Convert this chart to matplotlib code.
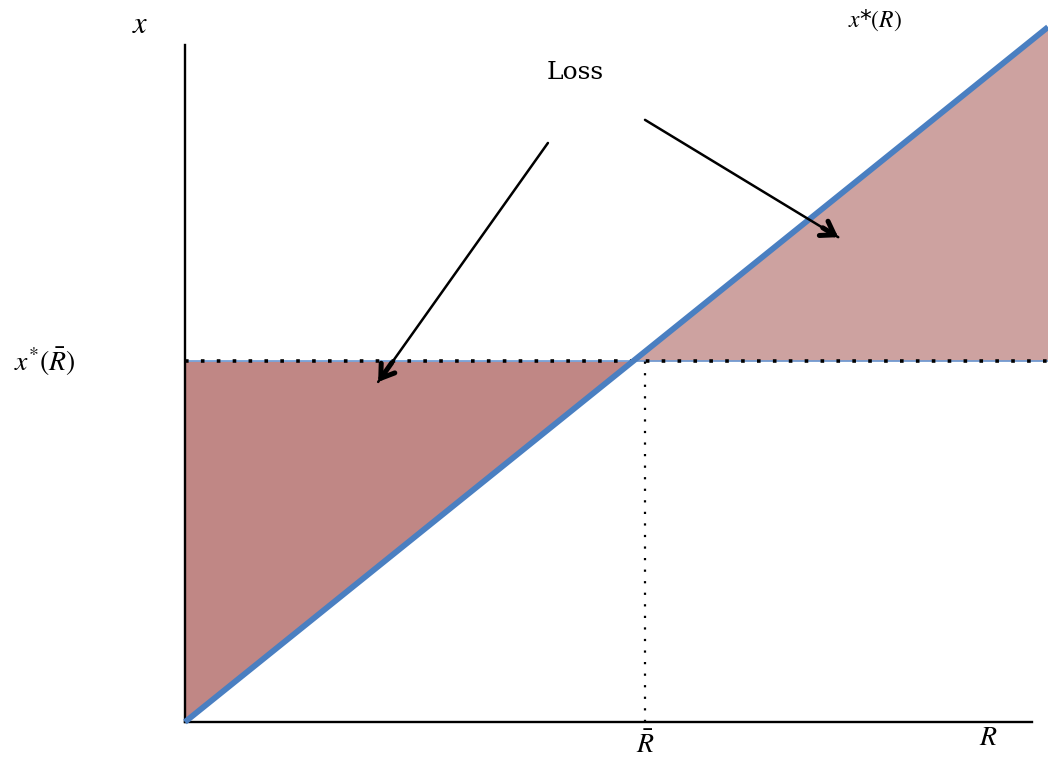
import numpy as np
import matplotlib
matplotlib.use("Agg")
import matplotlib.pyplot as plt

plt.rcParams["mathtext.fontset"] = "stix"

# model quantities (data units: R_bar = 1, x*(R_bar) = 1)
R_BAR = 1.0
X_BAR = 1.0
R_line = np.array([0.0, 1.876])        # x*(R) line end points
x_line = np.array([0.0, 1.925])
R_cross = X_BAR * R_line[1] / x_line[1]  # where x*(R) meets x*(R_bar)

# "Loss" arrows: (tail, tip)
arrows_from = [(0.789, 1.604), (1.0, 1.668)]
arrows_to = [(0.42, 0.942), (1.42, 1.343)]

BLUE = "#4a7fc1"
LOSS_LEFT = "#c08785"
LOSS_RIGHT = "#cda2a0"

fig = plt.figure(figsize=(10.48, 7.63), dpi=100)
ax = fig.add_axes([0, 0, 1, 1])
ax.set_xlim(-0.402, 1.876)
ax.set_ylim(-0.1136, 2.0)
ax.axis("off")

slope = x_line[1] / R_line[1]

# loss regions
rl = np.linspace(0, R_cross, 50)
ax.fill_between(rl, slope * rl, X_BAR, color=LOSS_LEFT, lw=0, zorder=1)
rr = np.linspace(R_cross, R_line[1], 50)
ax.fill_between(rr, X_BAR, slope * rr, color=LOSS_RIGHT, lw=0, zorder=1)

# axes
ax.plot([0, 0], [0, 1.875], color="black", lw=1.7, zorder=4)
ax.plot([0, 1.841], [0, 0], color="black", lw=1.7, zorder=4)

# x*(R_bar) level and R_bar marker
ax.plot([0, R_line[1]], [X_BAR, X_BAR], color="#6b9ad6", lw=1.2, zorder=2)
ax.plot([0, R_line[1]], [X_BAR, X_BAR], color="black", lw=2.6,
        dashes=(1, 3.4), zorder=3)
ax.plot([R_BAR, R_BAR], [0, X_BAR], color="black", lw=1.6,
        dashes=(1, 4.2), zorder=3)

# x*(R)
ax.plot(R_line, x_line, color=BLUE, lw=4.2, solid_capstyle="butt", zorder=5)

# Loss arrows: thin shaft, heavy chevron head
for (x0, y0), (x1, y1) in zip(arrows_from, arrows_to):
    ax.annotate("", xy=(x1, y1), xytext=(x0, y0), zorder=6,
                arrowprops=dict(arrowstyle="-", lw=1.8, color="black",
                                shrinkA=0, shrinkB=0))
    xm, ym = x1 - 0.08 * (x1 - x0), y1 - 0.08 * (y1 - y0)
    ax.annotate("", xy=(x1, y1), xytext=(xm, ym), zorder=6,
                arrowprops=dict(arrowstyle="->,head_length=0.45,head_width=0.3",
                                lw=3.6, color="black", shrinkA=0, shrinkB=0,
                                mutation_scale=20))

ax.text(0.848, 1.798, "Loss", fontsize=18, family="DejaVu Serif",
        ha="center", va="center")
ax.text(-0.098, 1.931, r"$x$", fontsize=22, ha="center", va="center")
ax.text(1.5, 1.945, r"$x$*$(R)$", fontsize=17, ha="center", va="center")
ax.text(-0.304, 0.997, r"$x^{*}(\bar{R})$", fontsize=20,
        ha="center", va="center")
ax.text(R_BAR, -0.064, r"$\bar{R}$", fontsize=20, ha="center", va="center")
ax.text(1.746, -0.042, r"$R$", fontsize=20, ha="center", va="center")

fig.savefig("out.png", dpi=100)
